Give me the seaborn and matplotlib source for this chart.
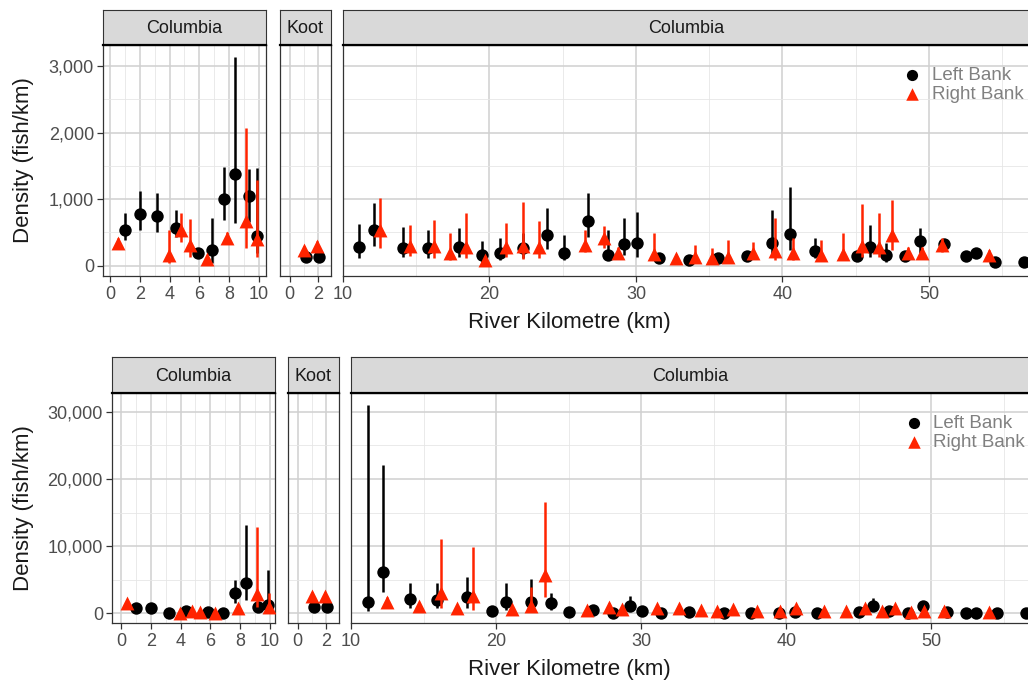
import numpy as np
import pandas as pd
import seaborn as sns
import matplotlib.pyplot as plt
from matplotlib.ticker import FuncFormatter, MultipleLocator

# ---------------- top row: density estimates ----------------
top_left_rkm = [0.99, 2.02, 3.14, 4.4, 5.93, 6.86, 7.65, 8.4, 9.34, 9.85,
                11.1, 12.1, 14.1, 15.8, 17.9, 19.5, 20.7, 22.3, 23.9, 25.1,
                26.7, 28.1, 29.2, 30.1, 31.6, 33.6, 35.6, 37.6, 39.3, 40.5,
                42.2, 45.1, 46.0, 47.1, 48.4, 49.4, 51.0, 52.5, 53.2, 54.5, 56.5]
top_left_dens = [536, 772, 747, 571, 185, 235, 997, 1378, 1048, 446,
                 276, 536, 261, 261, 286, 160, 185, 261, 461, 195,
                 677, 160, 326, 336, 120, 85, 110, 145, 346, 476,
                 226, 145, 286, 155, 145, 376, 326, 145, 195, 60, 60]
top_left_lo = [390, 530, 511, 436, 130, 35, 687, 637, 650, 185,
               110, 296, 135, 110, 135, 35, 85, 110, 246, 85,
               426, 85, 160, 135, 70, 45, 60, 90, 135, 236,
               110, 90, 135, 60, 90, 185, 250, 100, 150, 30, 30]
top_left_hi = [787, 1130, 1088, 837, 250, 712, 1489, 3133, 1450, 1464,
               627, 947, 586, 536, 561, 376, 411, 486, 862, 461,
               1098, 536, 712, 802, 180, 130, 170, 210, 837, 1188,
               411, 210, 611, 336, 210, 561, 400, 190, 250, 90, 90]

top_right_rkm = [0.55, 3.96, 4.79, 5.34, 6.48, 7.87, 9.12, 9.89,
                 12.5, 14.6, 16.2, 17.3, 18.4, 19.7, 21.1, 22.3, 23.4, 26.5,
                 27.8, 28.8, 31.2, 32.7, 34.0, 35.2, 36.3, 38.0, 39.5, 40.7,
                 42.6, 44.1, 45.4, 46.6, 47.5, 48.6, 49.5, 50.9, 54.1]
top_right_dens = [346, 160, 536, 311, 95, 411, 677, 396,
                  536, 296, 296, 195, 286, 90, 286, 296, 276, 311,
                  411, 195, 175, 110, 135, 110, 135, 185, 226, 185,
                  160, 175, 296, 276, 461, 195, 185, 311, 160]
top_right_lo = [290, 35, 361, 135, 40, 330, 261, 135,
                261, 145, 110, 85, 110, 40, 135, 95, 110, 210,
                261, 110, 85, 60, 60, 40, 35, 110, 85, 90,
                80, 80, 135, 135, 236, 110, 110, 210, 100]
top_right_hi = [420, 536, 787, 697, 160, 500, 2065, 1288,
                1012, 611, 687, 486, 787, 150, 637, 952, 677, 536,
                601, 286, 486, 170, 311, 261, 386, 361, 712, 411,
                386, 486, 927, 787, 987, 286, 286, 411, 230]

top_koot_left_rkm = [1.16, 2.07]
top_koot_left_dens = [125, 135]
top_koot_left_lo = [80, 90]
top_koot_left_hi = [170, 180]
top_koot_right_rkm = [0.98, 1.93]
top_koot_right_dens = [235, 296]
top_koot_right_lo = [180, 230]
top_koot_right_hi = [290, 370]

# ---------------- bottom row: density estimates ----------------
bot_left_rkm = [1.0, 2.0, 3.2, 4.4, 5.86, 6.87, 7.65, 8.39, 9.2, 9.9,
                11.2, 12.2, 14.1, 15.9, 18.0, 19.7, 20.7, 22.4, 23.8, 25.0,
                26.7, 28.05, 29.2, 30.05, 31.4, 33.3, 35.7, 37.6, 39.5, 40.6,
                42.1, 45.0, 46.0, 47.1, 48.4, 49.4, 51.1, 52.4, 53.1, 54.5, 56.5]
bot_left_dens = [744, 744, 100, 400, 250, 100, 2975, 4561, 990, 1240,
                 1735, 6197, 2082, 1983, 2380, 350, 1735, 1636, 1487, 250,
                 500, 100, 1140, 350, 100, 250, 100, 100, 100, 250,
                 100, 250, 1090, 400, 100, 1090, 250, 50, 50, 50, 50]
bot_left_lo = [500, 500, 40, 200, 100, 40, 1487, 1983, 500, 300,
               300, 3223, 800, 800, 800, 150, 500, 500, 500, 100,
               250, 40, 500, 150, 40, 100, 40, 40, 40, 100,
               40, 100, 500, 200, 40, 600, 100, 20, 20, 20, 20]
bot_left_hi = [1000, 1000, 200, 700, 450, 200, 4958, 13140, 1500, 6445,
               30990, 22060, 4561, 4462, 5354, 600, 4462, 5057, 2975, 450,
               800, 200, 2578, 600, 200, 450, 200, 200, 200, 450,
               200, 450, 2231, 700, 200, 1600, 450, 100, 100, 100, 100]

bot_right_rkm = [0.38, 3.96, 4.74, 5.3, 6.3, 7.87, 9.1, 9.95,
                 12.5, 14.7, 16.2, 17.3, 18.4, 21.1, 22.4, 23.4, 26.3, 27.8,
                 28.7, 31.1, 32.6, 34.1, 35.2, 36.3, 38.0, 39.6, 40.7, 42.6,
                 44.1, 45.4, 46.6, 47.5, 48.6, 49.5, 50.9, 54.0]
bot_right_dens = [1490, 100, 400, 250, 100, 744, 2876, 990,
                  1735, 1090, 2975, 744, 2578, 595, 1140, 5701, 500, 990,
                  595, 744, 744, 500, 400, 595, 400, 400, 744, 400,
                  400, 744, 400, 744, 250, 400, 400, 250]
bot_right_lo = [1000, 40, 200, 100, 40, 400, 990, 300,
                1000, 600, 800, 400, 500, 300, 300, 2479, 250, 500,
                300, 400, 400, 250, 200, 300, 200, 200, 400, 200,
                200, 400, 200, 400, 100, 200, 200, 100]
bot_right_hi = [2000, 200, 700, 450, 200, 1100, 12890, 2975,
                2500, 1600, 11006, 1100, 9916, 900, 3966, 16609, 800, 1500,
                900, 1100, 1100, 800, 700, 900, 700, 700, 1100, 700,
                700, 1100, 700, 1100, 450, 700, 700, 450]

bot_koot_left_rkm = [1.15, 2.09]
bot_koot_left_dens = [990, 990]
bot_koot_left_lo = [600, 600]
bot_koot_left_hi = [1500, 1500]
bot_koot_right_rkm = [0.98, 1.93]
bot_koot_right_dens = [2578, 2578]
bot_koot_right_lo = [2000, 2000]
bot_koot_right_hi = [3200, 3200]


def frame(row, river, bank, rkm, dens, lo, hi):
    return pd.DataFrame({"row": row, "river": river, "bank": bank,
                         "rkm": rkm, "dens": dens, "lo": lo, "hi": hi})


df = pd.concat([
    frame("top", "Columbia", "Left Bank", top_left_rkm, top_left_dens, top_left_lo, top_left_hi),
    frame("top", "Columbia", "Right Bank", top_right_rkm, top_right_dens, top_right_lo, top_right_hi),
    frame("top", "Koot", "Left Bank", top_koot_left_rkm, top_koot_left_dens, top_koot_left_lo, top_koot_left_hi),
    frame("top", "Koot", "Right Bank", top_koot_right_rkm, top_koot_right_dens, top_koot_right_lo, top_koot_right_hi),
    frame("bot", "Columbia", "Left Bank", bot_left_rkm, bot_left_dens, bot_left_lo, bot_left_hi),
    frame("bot", "Columbia", "Right Bank", bot_right_rkm, bot_right_dens, bot_right_lo, bot_right_hi),
    frame("bot", "Koot", "Left Bank", bot_koot_left_rkm, bot_koot_left_dens, bot_koot_left_lo, bot_koot_left_hi),
    frame("bot", "Koot", "Right Bank", bot_koot_right_rkm, bot_koot_right_dens, bot_koot_right_lo, bot_koot_right_hi),
], ignore_index=True)
# Columbia is split into an upstream (0-10) and downstream (>10) facet
df["section"] = np.where(df["river"] == "Koot", "koot",
                         np.where(df["rkm"] <= 10.5, "up", "down"))

sns.set_theme(style="whitegrid")
plt.rcParams["font.family"] = ["Liberation Sans", "DejaVu Sans"]

W, H = 1028, 684
fig = plt.figure(figsize=(W / 100, H / 100), dpi=100)
palette = {"Left Bank": "#000000", "Right Bank": "#FF2400"}
markers = {"Left Bank": "o", "Right Bank": "^"}
sizes = {"Left Bank": 80, "Right Bank": 100}
GRID = "#D0D0D0"
MINOR = "#E6E6E6"
TICKC = "#4D4D4D"


def px_axes(x0, y0, x1, y1):
    return fig.add_axes([x0 / W, 1 - y1 / H, (x1 - x0) / W, (y1 - y0) / H])


def strip(x0, y0, x1, y1, label):
    s = px_axes(x0, y0, x1, y1)
    s.set_facecolor("#D9D9D9")
    s.set_xticks([])
    s.set_yticks([])
    s.grid(False)
    for sp in s.spines.values():
        sp.set_color("#333333")
        sp.set_linewidth(0.8)
    s.spines["bottom"].set_linewidth(1.6)
    s.spines["bottom"].set_color("#000000")
    s.text(0.5, 0.47, label, ha="center", va="center", fontsize=13,
           color="#1A1A1A", transform=s.transAxes)


# row layouts: (row, plot y range, strip y range, ylim, y major, y minor, panels)
rows = [
    ("top", (45, 276), (10, 45), (-155, 3319), 1000, 500,
     [("up", "Columbia", (103, 266), (-0.47, 10.47), 2, 1),
      ("koot", "Koot", (280, 331), (-0.67, 2.91), 2, 1),
      ("down", "Columbia", (343, 1030), (10.0, 56.9), 10, 5)]),
    ("bot", (393, 623), (357, 393), (-1440, 32800), 10000, 5000,
     [("up", "Columbia", (112, 275), (-0.6, 10.34), 2, 1),
      ("koot", "Koot", (288, 339), (-0.69, 2.9), 2, 1),
      ("down", "Columbia", (351, 1030), (10.0, 56.8), 10, 5)]),
]

for row, (py0, py1), (sy0, sy1), ylim, ymaj, ymin, panels in rows:
    for i, (sec, label, (x0, x1), xlim, xmaj, xmin) in enumerate(panels):
        ax = px_axes(x0, py0, x1, py1)
        strip(x0, sy0, x1, sy1, label)
        d = df[(df["row"] == row) & (df["section"] == sec)]
        for bank in ["Left Bank", "Right Bank"]:
            b = d[d["bank"] == bank]
            ax.vlines(b["rkm"], b["lo"], b["hi"], color=palette[bank],
                      linewidth=1.8, zorder=2 if bank == "Left Bank" else 4)
            sns.scatterplot(data=b, x="rkm", y="dens", color=palette[bank],
                            marker=markers[bank], s=sizes[bank], linewidth=0,
                            ax=ax, zorder=3 if bank == "Left Bank" else 5,
                            label=bank, legend=False)
        ax.set_xlim(*xlim)
        ax.set_ylim(*ylim)
        ax.set_xlabel("")
        ax.set_ylabel("")
        ax.set_facecolor("white")
        ax.xaxis.set_major_locator(MultipleLocator(xmaj))
        ax.xaxis.set_minor_locator(MultipleLocator(xmin))
        ax.yaxis.set_major_locator(MultipleLocator(ymaj))
        ax.yaxis.set_minor_locator(MultipleLocator(ymin))
        ax.grid(True, which="major", color=GRID, linewidth=1.1)
        ax.grid(True, which="minor", color=MINOR, linewidth=0.6)
        ax.set_axisbelow(True)
        for sp in ax.spines.values():
            sp.set_color("#333333")
            sp.set_linewidth(0.9)
        ax.tick_params(axis="x", which="major", length=4.5, width=0.9, color="#333333",
                       labelsize=13, labelcolor=TICKC, pad=3, bottom=True)
        ax.tick_params(which="minor", length=0)
        if i == 0:
            ax.tick_params(axis="y", which="major", length=4.5, width=0.9, color="#333333",
                           labelsize=13, labelcolor=TICKC, pad=2, left=True)
            ax.yaxis.set_major_formatter(FuncFormatter(lambda v, p: f"{int(v):,}"))
        else:
            ax.tick_params(axis="y", which="both", left=False, labelleft=False)
        if sec == "down":
            handles, labels = ax.get_legend_handles_labels()
            ax.legend(handles, labels, loc="upper left", bbox_to_anchor=(0.815, 0.905),
                      frameon=False, fontsize=13.5, labelcolor="#808080",
                      handletextpad=0.55, labelspacing=0.1, borderpad=0,
                      borderaxespad=0, handlelength=1.0, markerscale=0.9)
    fig.text(569 / W, 1 - (py1 + 46) / H, "River Kilometre (km)", ha="center",
             va="center", fontsize=16, color="#1A1A1A")
    fig.text(24 / W, 1 - (py0 + py1) / 2 / H, "Density (fish/km)", ha="center",
             va="center", rotation=90, fontsize=16, color="#1A1A1A")

fig.savefig("out.png", dpi=100)
